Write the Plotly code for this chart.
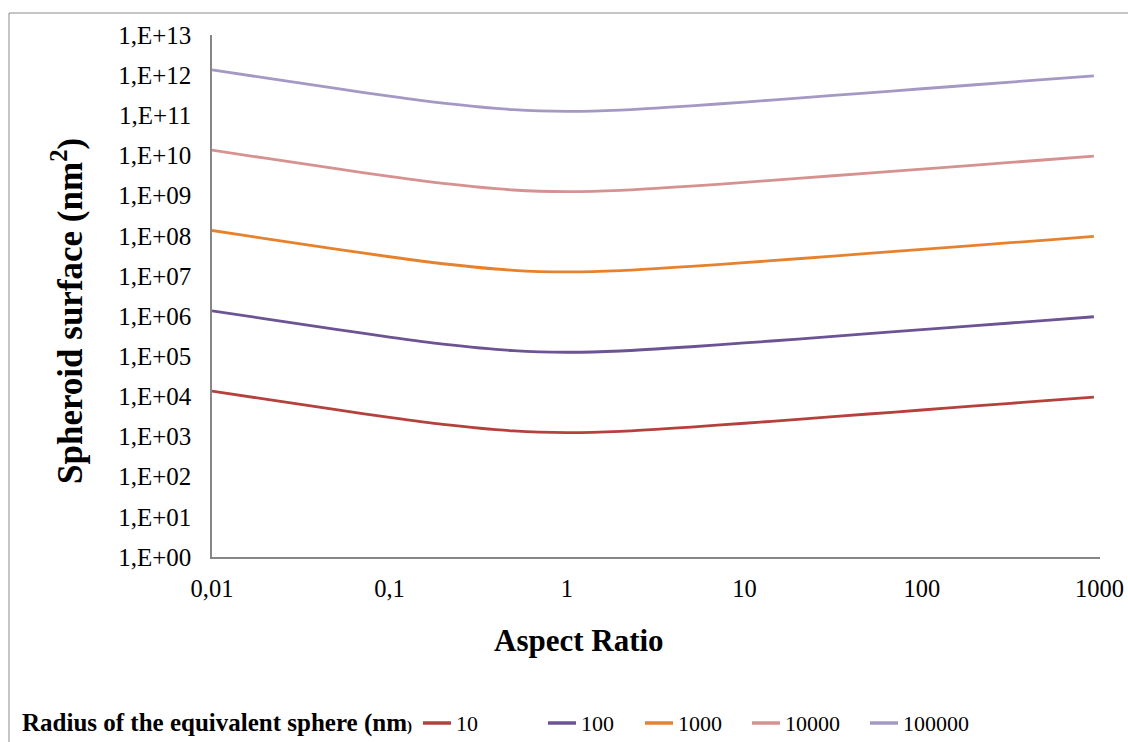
import plotly.graph_objects as go

# ---------------- data ----------------
aspect_ratio = [0.01, 0.02, 0.05, 0.1, 0.2, 0.5, 1, 2, 5, 10, 20, 50, 100, 200, 500, 930]

surface_r10 = [13540, 8540, 4670, 3000, 2010, 1380, 1257, 1350, 1720, 2140,
               2680, 3640, 4580, 5770, 7830, 9630]
surface_r100 = [1354000, 854000, 467000, 300000, 201000, 138000, 125700, 135000,
                172000, 214000, 268000, 364000, 458000, 577000, 783000, 963000]
surface_r1000 = [1.354e8, 8.54e7, 4.67e7, 3.00e7, 2.01e7, 1.38e7, 1.257e7, 1.35e7,
                 1.72e7, 2.14e7, 2.68e7, 3.64e7, 4.58e7, 5.77e7, 7.83e7, 9.63e7]
surface_r10000 = [1.354e10, 8.54e9, 4.67e9, 3.00e9, 2.01e9, 1.38e9, 1.257e9, 1.35e9,
                  1.72e9, 2.14e9, 2.68e9, 3.64e9, 4.58e9, 5.77e9, 7.83e9, 9.63e9]
surface_r100000 = [1.354e12, 8.54e11, 4.67e11, 3.00e11, 2.01e11, 1.38e11, 1.257e11, 1.35e11,
                   1.72e11, 2.14e11, 2.68e11, 3.64e11, 4.58e11, 5.77e11, 7.83e11, 9.63e11]

series_names = ["10", "100", "1000", "10000", "100000"]
series_values = [surface_r10, surface_r100, surface_r1000, surface_r10000, surface_r100000]
series_colors = ["#B5413D", "#6B5394", "#E6822E", "#D69290", "#A698C4"]

x_tickvals = [0.01, 0.1, 1, 10, 100, 1000]
x_ticktext = ["0,01", "0,1", "1", "10", "100", "1000"]
y_tickvals = [10 ** k for k in range(0, 14)]
y_ticktext = ["1,E+%02d" % k for k in range(0, 14)]

# ---------------- layout geometry (pixels) ----------------
W, H = 1128, 742
L, R, T, B = 212, 28, 35, 185
PW, PH = W - L - R, H - T - B


def px(x):
    return (x - L) / PW


def py(y):
    return (H - B - y) / PH


FONT = "Liberation Serif"

fig = go.Figure()
for name, vals, col in zip(series_names, series_values, series_colors):
    fig.add_trace(go.Scatter(
        x=aspect_ratio, y=vals, name=name, mode="lines",
        line=dict(color=col, width=2.8, shape="spline", smoothing=0.6),
        showlegend=False,
    ))

fig.update_layout(
    width=W, height=H,
    margin=dict(l=L, r=R, t=T, b=B, autoexpand=False),
    paper_bgcolor="white", plot_bgcolor="white",
    font=dict(family=FONT, color="black", size=24),
    xaxis=dict(
        type="log", range=[-2, 3.003], showgrid=False, zeroline=False,
        showline=True, linecolor="#868686", linewidth=1.5,
        tickvals=x_tickvals, ticktext=x_ticktext, ticks="",
        ticklabelstandoff=9, automargin=False,
        tickfont=dict(family=FONT, size=24.5, color="black"),
    ),
    yaxis=dict(
        type="log", range=[0, 13], showgrid=False, zeroline=False,
        showline=True, linecolor="#868686", linewidth=1.5,
        tickvals=y_tickvals, ticktext=y_ticktext, ticks="",
        ticklabelstandoff=14, automargin=False,
        tickfont=dict(family=FONT, size=25, color="black"),
    ),
)

annotations = [
    dict(text="<b>Spheroid surface (nm<sup>2</sup>)</b>", x=px(67), y=py(311),
         xref="paper", yref="paper", textangle=-90, showarrow=False,
         font=dict(family=FONT, size=35, color="black"),
         xanchor="center", yanchor="middle"),
    dict(text="<b>Aspect Ratio</b>", x=px(579), y=py(640),
         xref="paper", yref="paper", showarrow=False,
         font=dict(family=FONT, size=31, color="black"),
         xanchor="center", yanchor="middle"),
    dict(text="<b>Radius of the equivalent sphere (nm<span style='font-size:15px'>)</span></b>",
         x=px(20), y=py(723), xref="paper", yref="paper", showarrow=False,
         font=dict(family=FONT, size=25, color="black"),
         xanchor="left", yanchor="middle"),
]

shapes = [
    dict(type="rect", xref="paper", yref="paper",
         x0=px(9), y0=py(800), x1=px(1200), y1=py(13),
         line=dict(color="#8C8C8C", width=1), fillcolor="rgba(0,0,0,0)", layer="below"),
]

legend_starts = [423, 548, 645, 752, 870]
for name, col, x0 in zip(series_names, series_colors, legend_starts):
    shapes.append(dict(type="line", xref="paper", yref="paper",
                       x0=px(x0), x1=px(x0 + 28), y0=py(723), y1=py(723),
                       line=dict(color=col, width=3.5)))
    annotations.append(dict(text=name, x=px(x0 + 31), y=py(723),
                            xref="paper", yref="paper", showarrow=False,
                            font=dict(family=FONT, size=22, color="black"),
                            xanchor="left", yanchor="middle"))

fig.update_layout(annotations=annotations, shapes=shapes)

fig.write_html("out.html")
